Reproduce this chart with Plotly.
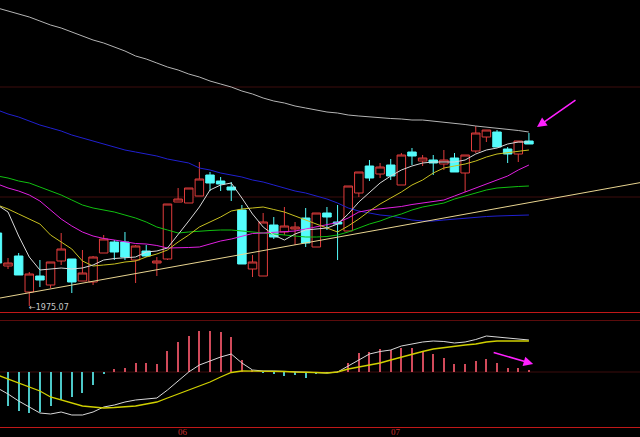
import plotly.graph_objects as go

# ---------------- data ----------------
idx = list(range(51))

opens  = [2048,2015,2025,1989,2005,1996,2020,2022,2000,1999,2028,2039,2039,2021,2030,2018,2022,2079,2078,2085,
          2106,2100,2094,2071,2012,2005,2056,2049,2052,2063,2034,2068,2059,2050,2088,2115,2107,2116,2096,2129,
          2120,2121,2117,2123,2108,2130,2144,2149,2132,2127,2140]
highs  = [2051,2023,2028,2009,2021,2019,2048,2022,2031,2025,2046,2041,2049,2036,2036,2024,2077,2093,2093,2119,
          2109,2104,2099,2076,2026,2068,2064,2074,2059,2073,2068,2074,2076,2095,2109,2121,2118,2122,2128,2133,
          2126,2126,2131,2128,2126,2155,2151,2151,2134,2140,2148]
lows   = [2015,2012,2006,1975,1994,1993,2016,1988,2000,1996,2028,2021,2021,1998,2024,2005,2021,2079,2078,2085,
          2090,2090,2080,2017,2004,2005,2042,2046,2036,2034,2034,2051,2021,2050,2084,2100,2103,2101,2096,2116,
          2115,2106,2111,2109,2089,2128,2139,2134,2118,2119,2137]
closes = [2018,2018,2006,2007,2001,2019,2032,1999,2008,2024,2042,2029,2024,2035,2025,2020,2077,2082,2093,2102,
          2098,2097,2091,2017,2019,2059,2044,2055,2054,2038,2068,2064,2057,2095,2109,2103,2114,2105,2126,2125,
          2123,2118,2121,2109,2126,2148,2151,2134,2127,2140,2137]

ma5  = [2076,2069,2045,2024,2011,2012,2013,2012,2013,2016,2021,2022.5,2023,2024,2029,2030,2033,2046,2060,2074,
        2091,2096,2098,2083,2067,2054,2046,2041,2047,2051,2052,2053,2057,2067,2079,2089,2098,2105,2111,2115,
        2118,2119,2119,2119,2121,2127,2131,2133,2137,2139,2139]
ma10 = [2076,2072,2067,2062,2057,2046,2039,2032,2020,2015,2016,2017,2019,2020,2024,2027,2031,2039,2046,2054,
        2059,2064,2070,2072,2073,2074,2071.5,2069,2065,2061,2057,2053,2049,2055,2062,2070,2077,2083,2089,2096,
        2101,2108,2113,2115,2117,2120,2124,2127,2128.5,2130,2131]
ma20 = [2097,2093,2090,2086,2080,2071,2062,2055,2049,2045,2042.5,2041,2039,2037.5,2037,2035.5,2033,2033,2033.5,2034,
        2037,2040,2042,2045,2047.5,2048,2048.5,2049,2050,2052,2054,2056.5,2058.5,2063,2069,2071,2072,2073.5,2074.5,2076.5,
        2078,2080,2081,2085,2089,2093,2097,2101,2105,2111,2116]
ma30 = [2105,2103,2100,2098,2094,2090,2086,2081,2076,2073,2071,2069,2066,2063,2059,2054,2051,2048,2049,2050,
        2050.5,2051,2051,2050,2049,2048,2047,2046,2045,2044,2044,2044.5,2046,2049,2053,2057,2060,2064,2067,2071,
        2074,2076,2078,2082,2085,2088,2091,2093,2094,2094.5,2095]
ma60 = [2171,2167,2164,2160,2156,2153,2150,2146,2143,2140,2137,2134,2131,2129,2127,2125,2122,2120,2118,2113,
        2111,2108,2106,2104,2101,2099,2096,2093,2090,2088,2085,2082,2078,2073,2070,2068,2066,2065,2063,2061,
        2060,2060,2061,2062,2063,2064,2064.5,2065,2065.5,2066,2066]
ma120 = [2273,2270,2267,2264,2260,2256,2253,2249,2245,2241,2238,2234,2230,2225,2222,2218,2214,2211,2207,2204,
         2200,2197,2194,2190,2187,2183,2180,2178,2175,2173,2171,2169,2168,2166,2165,2164,2163,2162.5,2162,2161,
         2161,2160,2159,2158,2156.5,2155,2154,2153,2151.5,2150.5,2149]

trend_x = [0, 61]
trend_y = [1982.5, 2099.4]

macd_hist = [-13,-17,-19.5,-20.5,-20,-17,-14,-12.5,-10.5,-6.5,-1,1.5,2,4.5,4.5,4,10.5,15,18,20.5,
             20.5,20,17.5,6,1,-0.5,-1,-2,-1.5,-3,-1,-0.3,0.5,4.5,9.5,10,11.5,11,12,12,
             10,9,7,4,4,5.5,6.5,4.5,2,2,1]
dif = [-8,-11,-14.5,-17.5,-20.5,-21,-20,-21.5,-21.5,-20,-17.5,-16.5,-15,-14,-13.5,-13,-9,-4.5,0,3.5,
       5.5,7.5,9,4.5,1,0.5,0.5,0.25,0,0,-0.25,-0.5,0,3,6,9,10.25,11,13,14,
       15,15.5,15.25,14.5,15,16.25,18,17.5,17,16.25,16]
dea = [-1.5,-3.5,-5.5,-7.5,-9.5,-12.5,-14,-15.5,-17,-17.5,-18,-17.75,-17.5,-17,-16,-15,-13,-11,-9,-7,
       -5,-2.5,-0.25,0.5,0.5,0.5,0.5,0.25,0,0,-0.25,-0.5,0,1.5,2.5,3.25,4.5,6,7.5,9,
       10.25,11.5,12.25,13,13.5,14,15,15.5,15.5,15.5,15.5]

low_label = "←1975.07"
low_label_idx = 3
month_labels = ["06", "07"]
month_pos = [17.5, 37.5]
grid_prices = [2194, 2084]

# ---------------- figure ----------------
W, H = 640, 437
def py(px):  # paper y from pixel row
    return 1 - px / H

fig = go.Figure()

fig.add_trace(go.Candlestick(
    x=idx, open=opens, high=highs, low=lows, close=closes,
    increasing=dict(line=dict(color="#e03c3c", width=1), fillcolor="#000000"),
    decreasing=dict(line=dict(color="#54fcfc", width=1), fillcolor="#54fcfc"),
    whiskerwidth=0, xaxis="x", yaxis="y", hoverinfo="skip", showlegend=False))

lines = [(ma120, "#b4b4b4"), (ma60, "#2020d0"), (ma30, "#10c010"), (ma20, "#e020e0"),
         (ma10, "#c8c020"), (ma5, "#d8d8d8")]
for vals, col in lines:
    fig.add_trace(go.Scatter(x=idx, y=vals, mode="lines", line=dict(color=col, width=1),
                             xaxis="x", yaxis="y", showlegend=False, hoverinfo="skip"))

fig.add_trace(go.Scatter(x=trend_x, y=trend_y, mode="lines", line=dict(color="#e8d490", width=1),
                         xaxis="x", yaxis="y", showlegend=False, hoverinfo="skip"))

# MACD panel
fig.add_trace(go.Bar(x=idx, y=macd_hist, width=0.1,
                     marker=dict(color=["#d04a5a" if v >= 0 else "#4cc8c8" for v in macd_hist],
                                 line=dict(width=0)),
                     xaxis="x2", yaxis="y2", showlegend=False, hoverinfo="skip"))
fig.add_trace(go.Scatter(x=idx, y=dif, mode="lines", line=dict(color="#d8d8d8", width=1),
                         xaxis="x2", yaxis="y2", showlegend=False, hoverinfo="skip"))
fig.add_trace(go.Scatter(x=idx, y=dea, mode="lines", line=dict(color="#d0d000", width=1.3),
                         xaxis="x2", yaxis="y2", showlegend=False, hoverinfo="skip"))

xr = [0.245, 60.45]
fig.update_layout(
    width=W, height=H, margin=dict(l=0, r=0, t=0, b=0),
    paper_bgcolor="#000000", plot_bgcolor="#000000",
    boxgap=0.2, boxgroupgap=0, showlegend=False, bargap=0,
    xaxis=dict(domain=[0, 1], range=xr, visible=False, rangeslider=dict(visible=False), anchor="y"),
    yaxis=dict(domain=[py(312), 1], range=[1969, 2281], visible=False, anchor="x"),
    xaxis2=dict(domain=[0, 1], range=xr, visible=False, anchor="y2"),
    yaxis2=dict(domain=[py(427), py(320)], range=[-27.5, 26], visible=False, anchor="x2"),
)

shapes = []
for gp in grid_prices:
    shapes.append(dict(type="line", xref="paper", yref="y", x0=0, x1=1, y0=gp, y1=gp,
                       line=dict(color="#3c0c0c", width=1), layer="below"))
shapes.append(dict(type="line", xref="paper", yref="y2", x0=0, x1=1, y0=0, y1=0,
                   line=dict(color="#3c0c0c", width=1), layer="below"))
for px, col in [(312.5, "#c01818"), (320.5, "#5a0c0c"), (427.5, "#c01818")]:
    shapes.append(dict(type="line", xref="paper", yref="paper", x0=0, x1=1, y0=py(px), y1=py(px),
                       line=dict(color=col, width=1)))
fig.update_layout(shapes=shapes)

ann = []
ann.append(dict(x=low_label_idx, y=lows[low_label_idx], xref="x", yref="y", text=low_label,
                showarrow=False, xanchor="left", yanchor="middle", xshift=-2, yshift=-1,
                font=dict(family="DejaVu Sans", size=8, color="#c8c8c8")))
for lab, pos in zip(month_labels, month_pos):
    ann.append(dict(x=pos, y=py(427), xref="x2", yref="paper", text=lab, showarrow=False,
                    xanchor="center", yanchor="top", yshift=2,
                    font=dict(family="Liberation Serif", size=9, color="#c83030")))
# magenta arrows
ann.append(dict(x=50.76, y=2154, xref="x", yref="y", text="", showarrow=True,
                ax=40, ay=-28, arrowcolor="#ff20ff", arrowwidth=1.6, arrowhead=2, arrowsize=1.2))
ann.append(dict(x=50.4, y=4, xref="x2", yref="y2", text="", showarrow=True,
                ax=-41, ay=-12, arrowcolor="#ff20ff", arrowwidth=1.6, arrowhead=2, arrowsize=1.2))
fig.update_layout(annotations=ann)

fig.write_html("out.html", config={"displayModeBar": False},
               post_script="document.body.style.margin='0';document.body.style.overflow='hidden';")
